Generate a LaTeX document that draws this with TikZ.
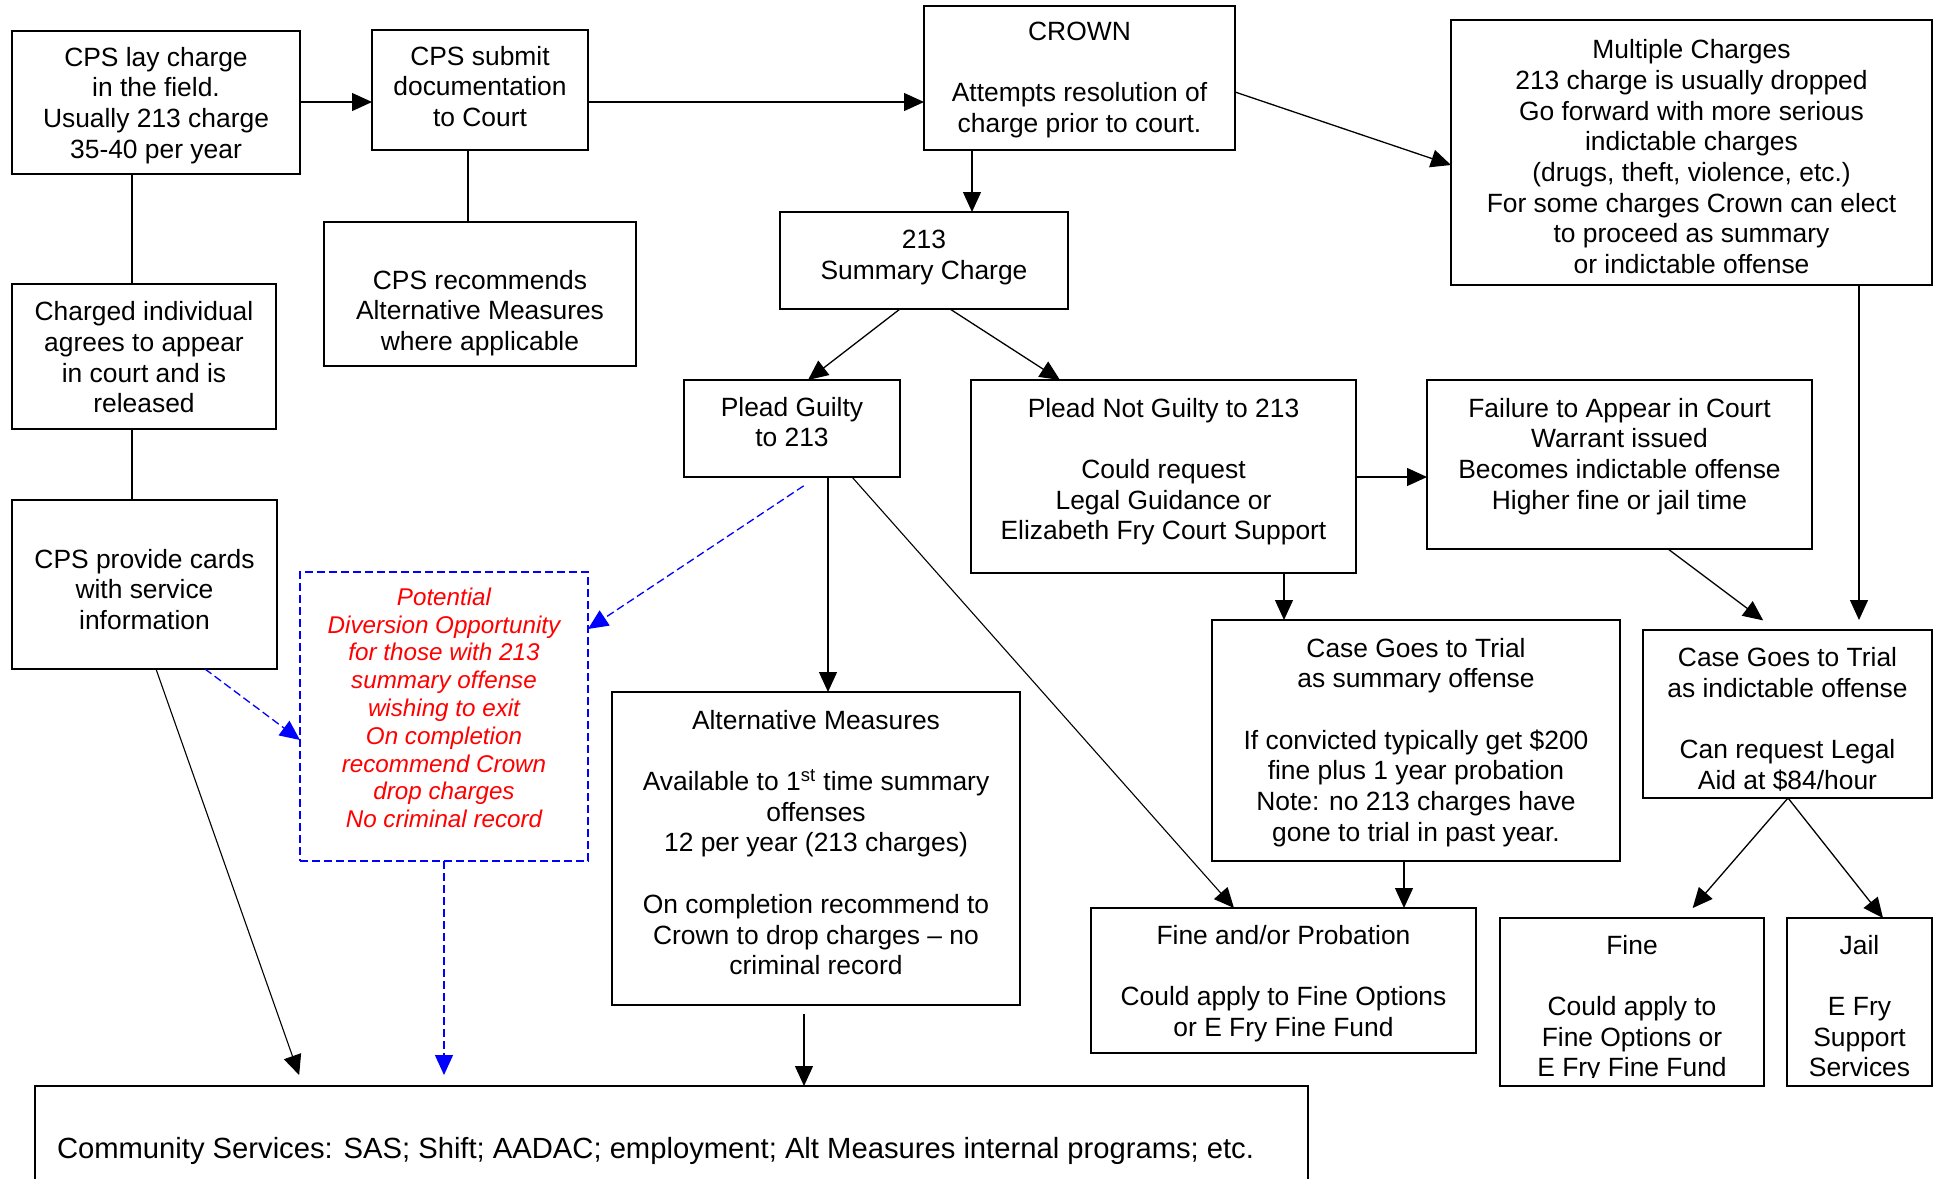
\documentclass[tikz,border=0pt]{standalone}
\usepackage{fontspec}
\setmainfont{Liberation Sans}
\usetikzlibrary{arrows.meta}
\definecolor{pblue}{RGB}{0,0,255}
\definecolor{pred}{RGB}{255,0,0}
% #1 extra style, #2 x1, #3 y1, #4 x2, #5 y2, #6 name  (pixel coordinates)
\newcommand\mkbox[6][]{\node[boxst,#1,minimum width={(#4-#2)*0.5pt},minimum height={(#5-#3)*0.5pt}] (#6) at ({(#2+#4)/2},{(#3+#5)/2}) {};}
% #1 extra style, #2 box name, #3 top offset (pt), #4 text
\newcommand\mktxt[4][]{\node[txt,#1,anchor=north] (#2t) at ([yshift=-#3]#2.north) {#4};}
\begin{document}
\begin{tikzpicture}[x=0.5pt,y=-0.5pt,
  boxst/.style={draw=black,line width=0.9pt,inner sep=0pt,outer sep=0pt},
  dashbox/.style={draw=pblue,line width=0.65pt,dash pattern=on 4pt off 2pt},
  txt/.style={inner sep=0pt,outer sep=0pt,align=center,font=\fontsize{13.2pt}{15.35pt}\selectfont},
  redtxt/.style={text=pred,font=\fontsize{12.1pt}{13.9pt}\selectfont\itshape},
  conn/.style={draw=black,line width=0.65pt},
  arr/.style={draw=black,line width=0.65pt,-{Triangle[length=10pt,width=9pt]}},
  barr/.style={draw=pblue,line width=0.65pt,dash pattern=on 4pt off 2pt,-{Triangle[length=10pt,width=9pt]}}]
\useasboundingbox (0,0) rectangle (1935,1179);
\clip (0,0) rectangle (1935,1179);

% helper coordinates
\foreach \v in {132,156,205,303,444,468,804,808,817,828,852,900,950,972,1060,1234,1284,1404,1668,1684,1776,1788,1859,1883}
  {\coordinate (x\v) at (\v,0);}
\foreach \v in {92,102,165,477,629,740}
  {\coordinate (y\v) at (0,\v);}

% boxes
\mkbox{12}{31}{300}{174}{b1}
\mkbox{372}{30}{588}{150}{b2}
\mkbox{324}{222}{636}{366}{b3}
\mkbox{12}{284}{276}{429}{b4}
\mkbox{12}{500}{277}{669}{b5}
\mkbox{924}{6}{1235}{150}{b6}
\mkbox{780}{212}{1068}{309}{b7}
\mkbox{1451}{20}{1932}{285}{b8}
\mkbox{684}{380}{900}{477}{b9}
\mkbox{971}{380}{1356}{573}{b10}
\mkbox{1427}{380}{1812}{549}{b11}
\mkbox{1212}{620}{1620}{861}{b12}
\mkbox{1643}{630}{1932}{798}{b13}
\mkbox{1091}{908}{1476}{1053}{b14}
\mkbox{1500}{918}{1764}{1086}{b15}
\mkbox{1787}{918}{1932}{1086}{b16}
\mkbox{612}{692}{1020}{1005}{b17}
\mkbox[dashbox]{300}{572}{588}{861}{b18}
\mkbox{35}{1086}{1308}{1220}{b19}

% texts
\mktxt{b1}{8pt}{CPS lay charge\\in the field.\\Usually 213 charge\\35-40 per year}
\mktxt{b2}{8pt}{CPS submit\\documentation\\to Court}
\mktxt{b3}{24pt}{CPS recommends\\Alternative Measures\\where applicable}
\mktxt{b4}{8.75pt}{Charged individual\\agrees to appear\\in court and is\\released}
\mktxt{b5}{24.5pt}{CPS provide cards\\with service\\information}
\mktxt{b6}{8pt}{CROWN\\[15.35pt]Attempts resolution of\\charge prior to court.}
\mktxt{b7}{9pt}{213\\Summary Charge}
\mktxt{b8}{9.75pt}{Multiple Charges\\213 charge is usually dropped\\Go forward with more serious\\indictable charges\\(drugs, theft, violence, etc.)\\For some charges Crown can elect\\to proceed as summary\\or indictable offense}
\mktxt{b9}{8.5pt}{Plead Guilty\\to 213}
\mktxt{b10}{9pt}{Plead Not Guilty to 213\\[15.35pt]Could request\\Legal Guidance or\\Elizabeth Fry Court Support}
\mktxt{b11}{9pt}{Failure to Appear in Court\\Warrant issued\\Becomes indictable offense\\Higher fine or jail time}
\mktxt{b12}{9pt}{Case Goes to Trial\\as summary offense\\[15.35pt]If convicted typically get \$200\\fine plus 1 year probation\\Note: no 213 charges have\\gone to trial in past year.}
\mktxt{b13}{8.85pt}{Case Goes to Trial\\as indictable offense\\[15.35pt]Can request Legal\\Aid at \$84/hour}
\mktxt{b14}{8.5pt}{Fine and/or Probation\\[15.35pt]Could apply to Fine Options\\or E Fry Fine Fund}
\begin{scope}
\clip (b15.north west) rectangle ([yshift=4.5pt]b15.south east);
\mktxt{b15}{8.5pt}{Fine\\[15.35pt]Could apply to\\Fine Options or\\E Fry Fine Fund}
\end{scope}
\mktxt{b16}{8.5pt}{Jail\\[15.35pt]E Fry\\Support\\Services}
\mktxt{b17}{9pt}{Alternative Measures\\[15.35pt]Available to 1\textsuperscript{st} time summary\\offenses\\12 per year (213 charges)\\[15.35pt]On completion recommend to\\Crown to drop charges – no\\criminal record}
\mktxt[redtxt]{b18}{7.85pt}{Potential\\Diversion Opportunity\\for those with 213\\summary offense\\wishing to exit\\On completion\\recommend Crown\\drop charges\\No criminal record}
\node[txt,anchor=north west,align=left,font=\fontsize{14.6pt}{17pt}\selectfont] (b19t) at ([xshift=11pt,yshift=-25.8pt]b19.north west) {Community Services: SAS; Shift; AADAC; employment; Alt Measures internal programs; etc.};

% connectors
\draw[conn] (b1.south -| x132) -- (b4.north -| x132);
\draw[conn] (b4.south -| x132) -- (b5.north -| x132);
\draw[arr] (b1.east |- y102) -- (b2.west |- y102);
\draw[arr] (b2.east |- y102) -- (b6.west |- y102);
\draw[conn] (b2.south -| x468) -- (b3.north -| x468);
\draw[arr] (b6.south -| x972) -- (b7.north -| x972);
\draw[arr] (b6.east |- y92) -- (b8.west |- y165);
\draw[arr] (b7.south -| x900) -- (b9.north -| x808);
\draw[arr] (b7.south -| x950) -- (b10.north -| x1060);
\draw[arr] (b10.east |- y477) -- (b11.west |- y477);
\draw[arr] (b10.south -| x1284) -- (b12.north -| x1284);
\draw[arr,shorten >=8pt] (b11.south -| x1668) -- (b13.north -| x1776);
\draw[arr,shorten >=5pt] (b8.south -| x1859) -- (b13.north -| x1859);
\draw[arr] (b12.south -| x1404) -- (b14.north -| x1404);
\draw[arr,shorten >=6.6pt] (b13.south -| x1788) -- (b15.north -| x1684);
\draw[arr] (b13.south -| x1788) -- (b16.north -| x1883);
\draw[arr] (b9.south -| x828) -- (b17.north -| x828);
\draw[arr,line width=0.55pt] (b9.south -| x852) -- (b14.north -| x1234);
\draw[barr,shorten <=8pt] (b9.south -| x817) -- (b18.east |- y629);
\draw[barr] (b5.south -| x205) -- (b18.west |- y740);
\draw[arr,line width=0.55pt,shorten >=5.8pt] (b5.south -| x156) -- (b19.north -| x303);
\draw[barr,shorten >=5.5pt] (b18.south -| x444) -- (b19.north -| x444);
\draw[arr,shorten <=4.5pt] (b17.south -| x804) -- (b19.north -| x804);
\end{tikzpicture}
\end{document}
